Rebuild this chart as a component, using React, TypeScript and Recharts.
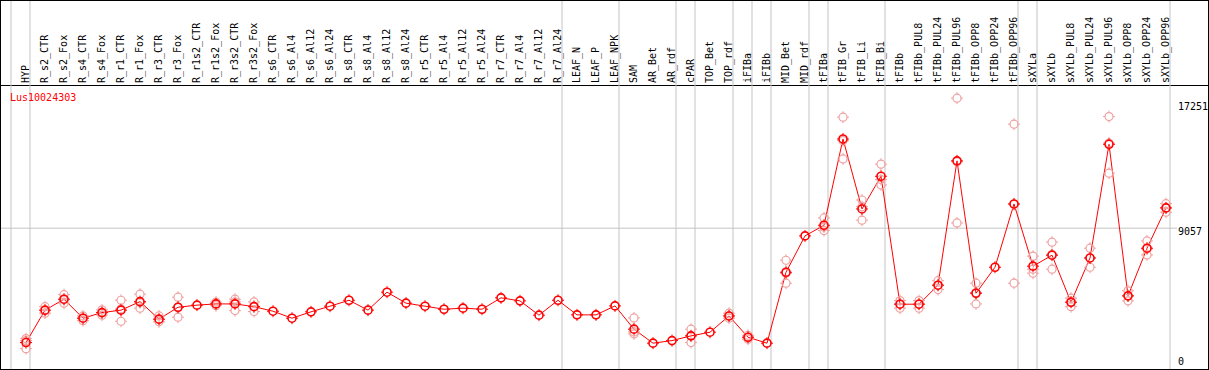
import React from 'react';
import { ComposedChart, Line, XAxis, YAxis, ReferenceLine } from 'recharts';

const geneName = 'Lus10024303';

const categories = [
    'HYP', 'R_s2_CTR', 'R_s2_Fox', 'R_s4_CTR', 'R_s4_Fox', 'R_r1_CTR', 'R_r1_Fox', 'R_r3_CTR', 'R_r3_Fox',
    'R_r1s2_CTR', 'R_r1s2_Fox', 'R_r3s2_CTR', 'R_r3s2_Fox', 'R_s6_CTR', 'R_s6_Al4', 'R_s6_Al12', 'R_s6_Al24',
    'R_s8_CTR', 'R_s8_Al4', 'R_s8_Al12', 'R_s8_Al24', 'R_r5_CTR', 'R_r5_Al4', 'R_r5_Al12', 'R_r5_Al24',
    'R_r7_CTR', 'R_r7_Al4', 'R_r7_Al12', 'R_r7_Al24', 'LEAF_N', 'LEAF_P', 'LEAF_NPK', 'SAM', 'AR_Bet', 'AR_rdf',
    'cPAR', 'TOP_Bet', 'TOP_rdf', 'iFIBa', 'iFIBb', 'MID_Bet', 'MID_rdf', 'tFIBa', 'tFIB_Gr', 'tFIB_Li', 'tFIB_Bi',
    'tFIBb', 'tFIBb_PUL8', 'tFIBb_PUL24', 'tFIBb_PUL96', 'tFIBb_OPP8', 'tFIBb_OPP24', 'tFIBb_OPP96',
    'sXYLa', 'sXYLb', 'sXYLb_PUL8', 'sXYLb_PUL24', 'sXYLb_PUL96', 'sXYLb_OPP8', 'sXYLb_OPP24', 'sXYLb_OPP96'
];

// mean expression per sample
const meanValues = [
    1540, 3670, 4390, 3140, 3510, 3670, 4230, 3080, 3860,
    4000, 4080, 4080, 3900, 3600, 3140, 3560, 3930,
    4320, 3670, 4850, 4130, 3930, 3730, 3800, 3730,
    4480, 4280, 3340, 4320, 3360, 3360, 3950, 2420, 1500, 1670,
    1980, 2220, 3290, 1890, 1500, 6160, 8550, 9250, 14920, 10320, 12470,
    4060, 4060, 5310, 13480, 4780, 6490, 10650,
    6560, 7280, 4190, 7100, 14570, 4610, 7740, 10390
];

// replicates (null where hidden under the mean marker)
const repHigh = [
    1800, 3900, 4690, 3290, 3690, 4320, 4720, 3290, 4520,
    null, 4200, 4390, 4210, null, null, null, null,
    null, null, null, null, null, null, null, null,
    null, null, null, null, null, null, null, 3160, null, null,
    2420, null, 3470, 2020, null, 6950, null, 9730, 16350, 10910, 13260,
    4300, 4300, 5610, 17600, 5440, null, 15890,
    7220, 8140, 4460, 7740, 16390, 4940, 8220, 10670
];
const repLow = [
    1140, 3470, 4130, 2980, 3340, 2940, 3800, 2900, 3210,
    null, 3960, 3640, 3580, null, null, null, null,
    null, null, null, null, null, null, null, null,
    null, null, null, null, null, null, null, 2110, null, null,
    1540, null, 3140, 1760, null, 5440, null, 8900, 13610, 9580, 11900,
    3800, 3800, 5020, 9400, 4080, null, 5440,
    6100, 6360, 3900, 6490, 12670, 4280, 7300, 10110
];
const repMid = [
    1670, 3640, 4350, 3150, 3500, 3750, 4170, 3050, 3850,
    null, 4080, 4210, 3910, null, null, null, null,
    null, null, null, null, null, null, null, null,
    null, null, null, null, null, null, null, 2240, null, null,
    1980, null, 3290, 1890, null, 6100, null, 9130, 14810, 10470, 12250,
    4080, 4080, 5300, 13430, 4830, null, 10620,
    6360, 7340, 4210, 7080, 14650, 4600, 7700, 10390
];

const yTicks = [0, 9057, 17251];
// index of the last sample in each group (-1 = left edge)
const groupEnds = [-1, 0, 28, 31, 34, 35, 37, 38, 39, 41, 42, 45, 52, 53, 60];

const data = categories.map((name, i) => ({
    i,
    name,
    mean: meanValues[i],
    r1: repHigh[i],
    r2: repLow[i],
    r3: repMid[i]
}));

const FONT = 'DejaVu Sans Mono';
const GRID = '#c4c4c4';

const makeMarker = (color: string, sw: number) => (props: any) => {
    const { cx, cy, index } = props;
    if (cx == null || cy == null || props.value == null) return <g key={index} />;
    return (
        <g key={index}>
            <circle cx={cx} cy={cy} r={4} fill="none" stroke={color} strokeWidth={sw} />
            <path
                d={`M${cx},${cy - 6}V${cy - 4}M${cx},${cy + 4}V${cy + 6}M${cx - 6},${cy}H${cx - 4}M${cx + 4},${cy}H${cx + 6}`}
                stroke={color}
                strokeWidth={1}
            />
        </g>
    );
};

const meanMarker = makeMarker('#ff0000', 1.6);
const repMarker = makeMarker('#f0a0a0', 1.2);

const CategoryTick = (props: any) => {
    const { x, y, payload } = props;
    return (
        <text
            transform={`translate(${x + 3},${y}) rotate(-90)`}
            fontSize={10}
            fontFamily={FONT}
            fill="#000"
            textAnchor="start"
        >
            {categories[payload.value]}
        </text>
    );
};

const ValueTick = (props: any) => {
    const { x, y, payload } = props;
    const dy = payload.value === 0 ? -1 : 7;
    return (
        <text x={x} y={y + dy} fontSize={10} fontFamily={FONT} fill="#000" textAnchor="start">
            {payload.value}
        </text>
    );
};

export default function App() {
    return (
        <div
            style={{
                position: 'absolute',
                left: 0,
                top: 0,
                width: 1209,
                height: 370,
                boxSizing: 'border-box',
                border: '1px solid #000',
                background: '#fff',
                overflow: 'hidden'
            }}
        >
            <div style={{ position: 'absolute', left: -1, top: 84, width: 1209, borderTop: '1px solid #000' }} />
            <div style={{ position: 'absolute', left: -1, top: -1 }}>
                <ComposedChart width={1209} height={370} data={data} margin={{ top: 0, right: 0, bottom: 4, left: 7 }}>
                    <XAxis
                        type="number"
                        dataKey="i"
                        orientation="top"
                        height={86}
                        domain={[-1, 60.21]}
                        ticks={categories.map((_, i) => i)}
                        interval={0}
                        axisLine={false}
                        tickLine={false}
                        tickSize={0}
                        tickMargin={3}
                        tick={<CategoryTick />}
                    />
                    <YAxis
                        orientation="right"
                        width={39}
                        domain={[0, 18400]}
                        ticks={yTicks}
                        interval={0}
                        axisLine={false}
                        tickLine={false}
                        tickSize={0}
                        tickMargin={8}
                        tick={<ValueTick />}
                    />
                    {groupEnds.map((k) => (
                        <ReferenceLine
                            key={k}
                            x={k + 0.21}
                            shape={(p: any) => <line x1={p.x1} x2={p.x2} y1={0} y2={372} stroke={GRID} strokeWidth={1} />}
                        />
                    ))}
                    <ReferenceLine
                        y={yTicks[1]}
                        shape={(p: any) => (
                            <line
                                x1={0}
                                x2={Math.max(p.x1, p.x2) + 7}
                                y1={p.y1}
                                y2={p.y2}
                                stroke={GRID}
                                strokeWidth={1}
                            />
                        )}
                    />
                    <Line dataKey="r1" stroke="none" dot={repMarker} activeDot={false} isAnimationActive={false} />
                    <Line dataKey="r2" stroke="none" dot={repMarker} activeDot={false} isAnimationActive={false} />
                    <Line dataKey="r3" stroke="none" dot={repMarker} activeDot={false} isAnimationActive={false} />
                    <Line
                        dataKey="mean"
                        stroke="#ff0000"
                        strokeWidth={1}
                        dot={meanMarker}
                        activeDot={false}
                        isAnimationActive={false}
                    />
                </ComposedChart>
            </div>
            <div
                style={{
                    position: 'absolute',
                    left: 9,
                    top: 92,
                    fontFamily: FONT,
                    fontSize: 10,
                    lineHeight: '10px',
                    color: '#ff0000'
                }}
            >
                {geneName}
            </div>
        </div>
    );
}
